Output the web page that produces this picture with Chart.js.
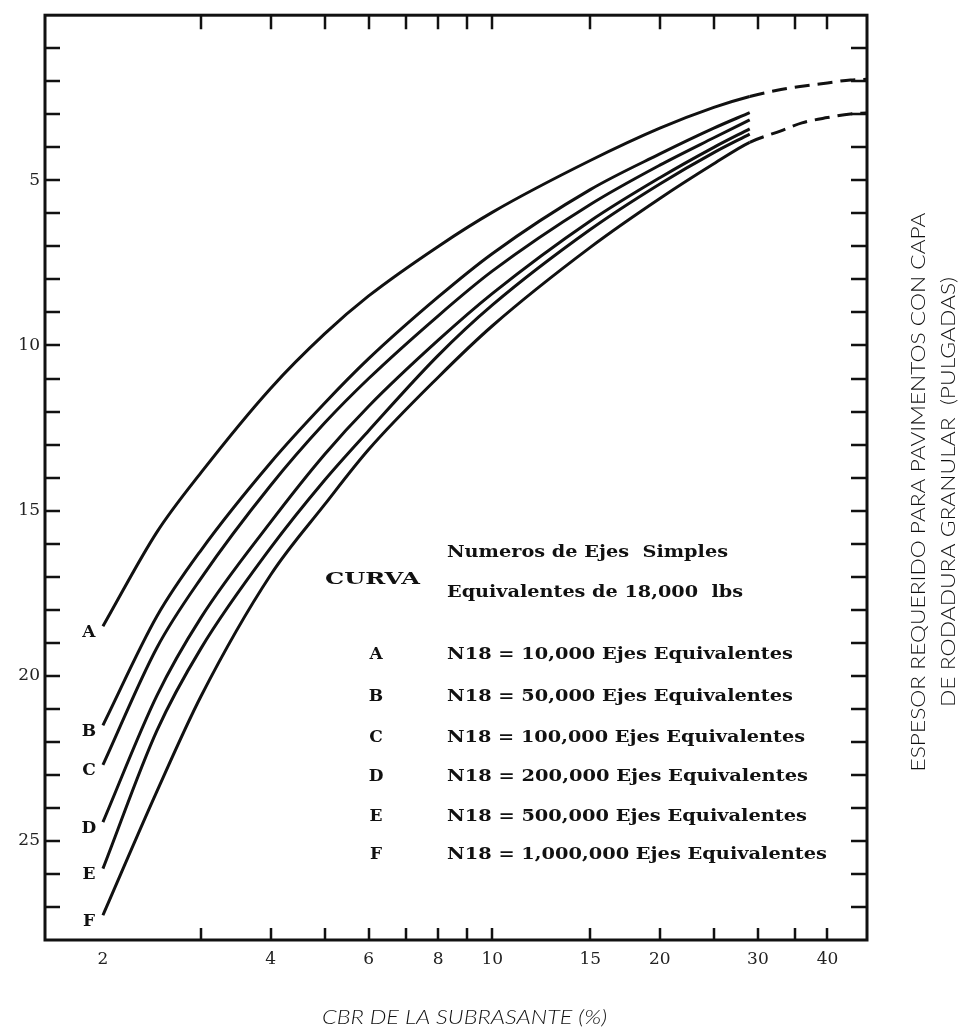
<!DOCTYPE html>
<html>
<head>
<meta charset="utf-8">
<title>Espesor requerido vs CBR</title>
<script src="https://cdn.jsdelivr.net/npm/chart.js@4.4.1/dist/chart.umd.min.js"></script>
<style>
  html, body { margin: 0; padding: 0; background: #ffffff; }
  #wrap { width: 978px; height: 1033px; }
</style>
</head>
<body>
<div id="wrap"><canvas id="chart" width="978" height="1033"></canvas></div>
<script>
// CBR of the subgrade (%) where every curve is sampled
const cbrMain = [2, 2.5, 3, 4, 5, 6, 8, 10, 15, 20, 25, 29];
// dashed extension of curves A and F towards high CBR
const cbrExt = [29, 33, 36, 40, 44, 47];

// required thickness (inches) for each traffic curve
const curveA = [18.5, 15.65, 13.85, 11.3, 9.65, 8.5, 7.0, 5.97, 4.4, 3.42, 2.79, 2.46];
const curveB = [21.5, 18.2, 16.2, 13.55, 11.75, 10.4, 8.53, 7.22, 5.28, 4.2, 3.42, 2.95];
const curveC = [22.7, 19.15, 17.05, 14.24, 12.35, 11.0, 9.1, 7.75, 5.73, 4.54, 3.71, 3.17];
const curveD = [24.43, 20.6, 18.24, 15.35, 13.3, 11.84, 9.84, 8.43, 6.23, 4.92, 4.0, 3.44];
const curveE = [25.84, 21.66, 19.17, 16.13, 14.08, 12.58, 10.3, 8.78, 6.49, 5.11, 4.16, 3.6];
const curveF = [27.25, 23.5, 20.62, 16.95, 14.82, 13.15, 10.96, 9.41, 7.03, 5.55, 4.5, 3.85];
const extA = [2.46, 2.25, 2.15, 2.05, 1.96, 1.94];
const extF = [3.85, 3.5, 3.26, 3.1, 2.99, 2.96];

const curveLetters = ['A', 'B', 'C', 'D', 'E', 'F'];
const legendTitle = ['Numeros de Ejes  Simples', 'Equivalentes de 18,000  lbs'];
const legendHead = 'CURVA';
const legendRows = [
  'N18 = 10,000 Ejes Equivalentes',
  'N18 = 50,000 Ejes Equivalentes',
  'N18 = 100,000 Ejes Equivalentes',
  'N18 = 200,000 Ejes Equivalentes',
  'N18 = 500,000 Ejes Equivalentes',
  'N18 = 1,000,000 Ejes Equivalentes'
];

// axis ticks
const xLabelValues = [2, 4, 6, 8, 10, 15, 20, 30, 40];
const xTickMarks = [3, 4, 5, 6, 7, 8, 9, 10, 15, 20, 25, 30, 35, 40];
const yLabelValues = [5, 10, 15, 20, 25];
const yTickMarks = [1, 2, 3, 4, 5, 6, 7, 8, 9, 10, 11, 12, 13, 14, 15, 16, 17, 18, 19, 20, 21, 22, 23, 24, 25, 26, 27];

const xTitle = 'CBR DE LA SUBRASANTE (%)';
const yTitle = ['ESPESOR REQUERIDO PARA PAVIMENTOS CON CAPA', 'DE RODADURA GRANULAR  (PULGADAS)'];

const INK = '#111111';
const SERIF = '"DejaVu Serif", "Liberation Serif", serif';
const SANS = 'Lato, "Open Sans", "DejaVu Sans", sans-serif';

function toPoints(xs, ys) {
  return xs.map((x, i) => ({ x: x, y: ys[i] }));
}

const dashAfter = 29;
function curveDataset(letter, xs, ys, extXs, extYs) {
  let pts = toPoints(xs, ys);
  if (extXs) pts = pts.concat(toPoints(extXs.slice(1), extYs.slice(1)));
  return {
    label: letter,
    data: pts,
    borderColor: INK,
    borderWidth: 3,
    pointRadius: 0,
    fill: false,
    cubicInterpolationMode: 'monotone',
    segment: {
      borderDash: ctx => (ctx.p0.parsed.x >= dashAfter ? [15, 8] : undefined)
    }
  };
}

// draws text squeezed or stretched to a given width
function fitText(ctx, text, x, y, width) {
  const w = ctx.measureText(text).width;
  ctx.save();
  ctx.translate(x, y);
  ctx.scale(width / w, 1);
  ctx.fillText(text, 0, 0);
  ctx.restore();
}

const framePlugin = {
  id: 'frame',
  afterDraw(chart) {
    const { ctx, chartArea: a, scales } = chart;
    ctx.save();
    ctx.strokeStyle = INK;
    // inward tick marks
    ctx.lineWidth = 2.5;
    ctx.beginPath();
    xTickMarks.forEach(v => {
      const px = Math.round(scales.x.getPixelForValue(v));
      ctx.moveTo(px, a.bottom); ctx.lineTo(px, a.bottom - 12);
      ctx.moveTo(px, a.top); ctx.lineTo(px, a.top + 14);
    });
    yTickMarks.forEach(v => {
      const py = Math.round(scales.y.getPixelForValue(v));
      ctx.moveTo(a.left, py); ctx.lineTo(a.left + 15, py);
      ctx.moveTo(a.right, py); ctx.lineTo(a.right - 16, py);
    });
    ctx.stroke();
    // axis box
    ctx.lineWidth = 3;
    ctx.strokeRect(a.left, a.top, a.right - a.left, a.bottom - a.top);
    ctx.restore();
  }
};

const textPlugin = {
  id: 'texts',
  afterDraw(chart) {
    const { ctx } = chart;
    ctx.save();
    ctx.fillStyle = INK;
    ctx.textBaseline = 'middle';

    // curve letters beside the start of each curve
    ctx.font = 'bold 17px ' + SERIF;
    ctx.textAlign = 'center';
    curveLetters.forEach((letter, i) => {
      const p = chart.getDatasetMeta(i).data[0];
      ctx.fillText(letter, p.x - 14, p.y + 6);
    });

    // legend block
    ctx.textAlign = 'left';
    ctx.font = 'bold 17px ' + SERIF;
    fitText(ctx, legendHead, 325, 580, 95);
    fitText(ctx, legendTitle[0], 447, 553, 281);
    fitText(ctx, legendTitle[1], 447, 593, 296);
    const rowY = [655, 697, 738, 777, 817, 855];
    const rowW = [346, 346, 358, 361, 360, 380];
    legendRows.forEach((row, i) => {
      ctx.textAlign = 'center';
      ctx.fillText(curveLetters[i], 376, rowY[i]);
      ctx.textAlign = 'left';
      fitText(ctx, row, 447, rowY[i], rowW[i]);
    });

    // x axis title
    ctx.font = 'italic 300 19px ' + SANS;
    fitText(ctx, xTitle, 322, 1018, 285);

    // rotated thickness title on the right
    ctx.font = '300 19px ' + SANS;
    const lens = [559, 430];
    const xs = [919, 949];
    yTitle.forEach((t, i) => {
      ctx.save();
      ctx.translate(xs[i], 492);
      ctx.rotate(-Math.PI / 2);
      fitText(ctx, t, -lens[i] / 2, 0, lens[i]);
      ctx.restore();
    });
    ctx.restore();
  }
};

new Chart(document.getElementById('chart'), {
  type: 'line',
  data: {
    datasets: [
      curveDataset('A', cbrMain, curveA, cbrExt, extA),
      curveDataset('B', cbrMain, curveB),
      curveDataset('C', cbrMain, curveC),
      curveDataset('D', cbrMain, curveD),
      curveDataset('E', cbrMain, curveE),
      curveDataset('F', cbrMain, curveF, cbrExt, extF)
    ]
  },
  options: {
    responsive: false,
    animation: false,
    devicePixelRatio: 1,
    layout: { padding: { left: 0, top: 9, right: 111, bottom: 0 } },
    plugins: { legend: { display: false }, tooltip: { enabled: false } },
    scales: {
      x: {
        type: 'logarithmic',
        min: 1.574,
        max: 47.1,
        position: 'bottom',
        grid: { display: false, drawTicks: false },
        border: { display: false },
        afterBuildTicks: s => { s.ticks = xLabelValues.map(v => ({ value: v })); },
        afterFit: s => { s.height = 93; },
        ticks: {
          autoSkip: false,
          maxRotation: 0,
          padding: 9,
          color: '#222222',
          font: { family: SERIF, size: 17 },
          callback: v => String(v)
        }
      },
      y: {
        type: 'linear',
        reverse: true,
        min: 0,
        max: 28,
        grid: { display: false, drawTicks: false },
        border: { display: false },
        afterBuildTicks: s => { s.ticks = yLabelValues.map(v => ({ value: v })); },
        afterFit: s => { s.width = 45; },
        ticks: {
          padding: 5,
          color: '#222222',
          font: { family: SERIF, size: 17 },
          callback: v => String(v)
        }
      }
    }
  },
  plugins: [framePlugin, textPlugin]
});
</script>
</body>
</html>
